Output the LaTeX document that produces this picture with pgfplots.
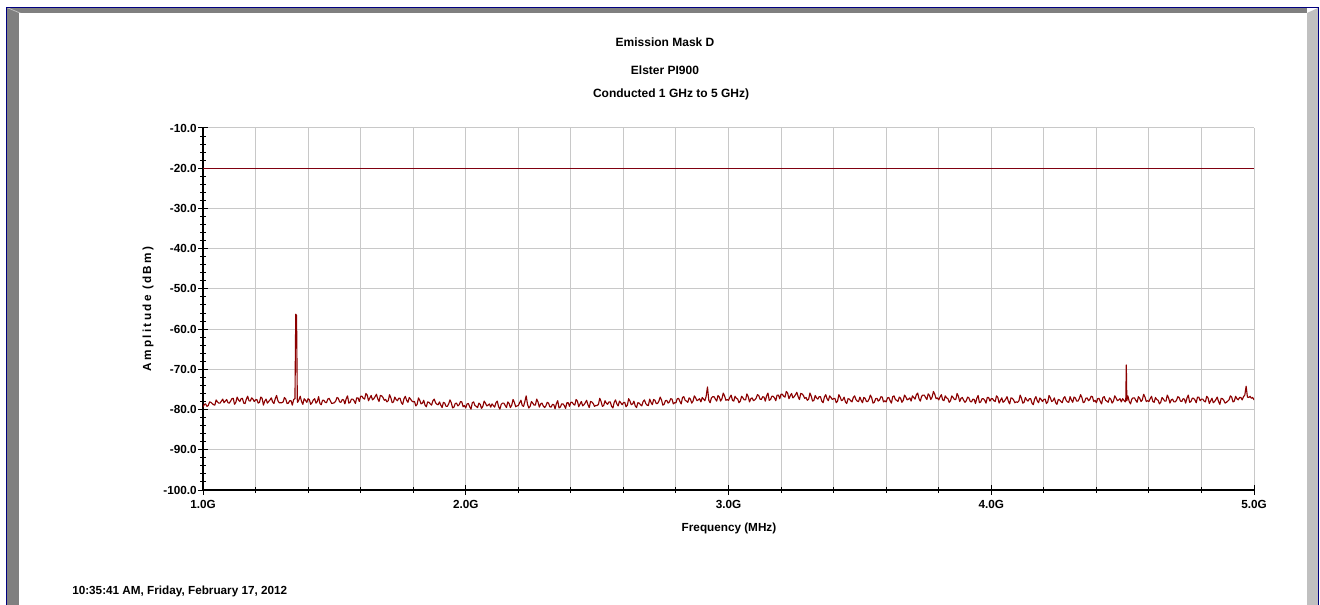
\documentclass[border=0pt]{standalone}
\usepackage{pgfplots}
\pgfplotsset{compat=1.18}
\usepackage{fontspec}
\setmainfont{Liberation Sans}
\newfontfamily\spacedfont[LetterSpace=20]{Liberation Sans}
\definecolor{trace}{RGB}{139,0,0}
\definecolor{limitc}{RGB}{128,0,16}
\definecolor{gridc}{RGB}{200,200,200}
\definecolor{navyc}{RGB}{0,0,128}
\definecolor{darkband}{RGB}{128,128,128}
\definecolor{lightband}{RGB}{192,192,192}
\newcommand{\lbl}{\fontsize{8.8}{10}\selectfont\bfseries}
\begin{document}
\begin{tikzpicture}
\begin{scope}[x=0.75pt,y=-0.75pt]
\useasboundingbox (0,0) rectangle (1320,605);
\fill[white] (0,0) rectangle (1320,605);
\fill[darkband] (7,8) rectangle (1307,13);
\fill[darkband] (7,8) rectangle (19,605);
\fill[lightband] (7,8) -- (19,13) -- (21,13) -- (9,8) -- cycle;
\fill[lightband] (1307,13) -- (1318,8) -- (1318,605) -- (1307,605) -- cycle;
\draw[navyc, line width=0.75pt] (6.5,605) -- (6.5,7.5) -- (1318.5,7.5) -- (1318.5,605);
\node[font=\fontsize{9}{11}\selectfont\bfseries] at (665,42) {Emission Mask D};
\node[font=\fontsize{9}{11}\selectfont\bfseries] at (665,70) {Elster PI900};
\node[font=\fontsize{9}{11}\selectfont\bfseries] at (671,94) {Conducted 1 GHz to 5 GHz)};
\node[font=\lbl] at (729,528) {Frequency (MHz)};
\node[rotate=90, font=\fontsize{8.8}{10}\selectfont\bfseries\spacedfont] at (148,309) {Amplitude (dBm)};
\node[font=\lbl, anchor=west, inner sep=0pt] at (72,591) {10:35:41 AM, Friday, February 17, 2012};
\end{scope}
\begin{axis}[
  at={(152.25pt,-367.5pt)}, anchor=south west,
  scale only axis, width=788.25pt, height=271.5pt,
  xmin=1, xmax=5, ymin=-100, ymax=-10,
  axis x line*=bottom, axis y line*=left,
  axis line style={-, black, line width=0.9pt},
  xtick={1,2,3,4,5}, xticklabels={1.0G,2.0G,3.0G,4.0G,5.0G},
  minor x tick num=4,
  ytick={-100,-90,-80,-70,-60,-50,-40,-30,-20,-10},
  yticklabels={-100.0,-90.0,-80.0,-70.0,-60.0,-50.0,-40.0,-30.0,-20.0,-10.0},
  minor y tick num=4,
  xtick pos=left, ytick pos=left,
  tick align=center,
  major tick length=7pt, minor tick length=4.5pt,
  tick style={black, line width=0.75pt},
  xmajorgrids=true, xminorgrids=true, ymajorgrids=true,
  major grid style={gridc, line width=0.75pt},
  minor grid style={gridc, line width=0.75pt},
  ticklabel style={font=\lbl},
  yticklabel style={anchor=east, inner sep=1pt},
  xticklabel style={anchor=north, inner sep=1pt, yshift=-3pt},
]
\addplot[limitc, line width=0.9pt] coordinates {(1,-20) (5,-20)};
\addplot[trace, line width=0.85pt, line join=round] coordinates {
(1.00,-79.4)(1.005,-78.7)(1.01,-78.6)(1.015,-79.2)(1.02,-79.0)(1.025,-78.1)(1.03,-78.2)(1.035,-78.5)(1.04,-78.8)(1.045,-78.9)(1.05,-77.6)(1.055,-78.1)(1.06,-78.4)(1.065,-78.4)(1.07,-77.9)(1.075,-77.4)(1.08,-78.3)(1.085,-77.9)(1.09,-77.5)(1.095,-78.3)
(1.10,-78.4)(1.105,-77.9)(1.11,-77.3)(1.115,-77.2)(1.12,-78.7)(1.125,-78.2)(1.13,-76.9)(1.135,-77.6)(1.14,-78.0)(1.145,-77.3)(1.15,-77.2)(1.155,-78.4)(1.16,-78.5)(1.165,-77.4)(1.17,-76.7)(1.175,-77.8)(1.18,-77.9)(1.185,-77.1)(1.19,-77.4)(1.195,-78.0)
(1.20,-77.6)(1.205,-77.5)(1.21,-78.4)(1.215,-78.2)(1.22,-76.9)(1.225,-77.2)(1.23,-78.9)(1.235,-77.9)(1.24,-77.4)(1.245,-78.4)(1.25,-78.0)(1.255,-77.6)(1.26,-77.1)(1.265,-78.1)(1.27,-78.5)(1.275,-77.3)(1.28,-76.5)(1.285,-77.8)(1.29,-78.3)(1.295,-78.3)
(1.30,-78.3)(1.305,-78.1)(1.31,-77.0)(1.315,-77.4)(1.32,-78.5)(1.325,-78.4)(1.33,-77.8)(1.335,-77.8)(1.34,-78.9)(1.345,-77.5)(1.350,-77.3)(1.353,-56.3)(1.356,-56.6)(1.359,-78.0)(1.36,-78.2)(1.365,-77.6)(1.37,-76.7)(1.375,-78.0)(1.38,-78.7)(1.385,-77.3)(1.39,-77.7)(1.395,-78.2)
(1.40,-77.3)(1.405,-77.6)(1.41,-78.7)(1.415,-78.3)(1.42,-77.6)(1.425,-77.3)(1.43,-78.4)(1.435,-78.0)(1.44,-76.8)(1.445,-78.5)(1.45,-78.8)(1.455,-77.7)(1.46,-77.7)(1.465,-78.2)(1.47,-78.3)(1.475,-77.4)(1.48,-77.2)(1.485,-77.9)(1.49,-78.5)(1.495,-78.4)
(1.50,-78.3)(1.505,-77.9)(1.51,-77.0)(1.515,-77.2)(1.52,-78.1)(1.525,-78.2)(1.53,-77.5)(1.535,-77.6)(1.54,-78.6)(1.545,-77.3)(1.55,-76.6)(1.555,-78.4)(1.56,-78.2)(1.565,-77.4)(1.57,-77.4)(1.575,-77.8)(1.58,-78.5)(1.585,-77.1)(1.59,-77.1)(1.595,-78.0)
(1.60,-76.7)(1.605,-76.7)(1.61,-77.2)(1.615,-77.4)(1.62,-76.0)(1.625,-76.4)(1.63,-77.8)(1.635,-77.1)(1.64,-76.5)(1.645,-77.6)(1.65,-77.3)(1.655,-76.8)(1.66,-76.2)(1.665,-77.3)(1.67,-78.0)(1.675,-76.5)(1.68,-76.6)(1.685,-77.0)(1.69,-77.7)(1.695,-77.5)
(1.70,-78.1)(1.705,-77.8)(1.71,-76.3)(1.715,-77.1)(1.72,-78.3)(1.725,-78.1)(1.73,-76.9)(1.735,-77.5)(1.74,-77.8)(1.745,-77.2)(1.75,-77.2)(1.755,-78.3)(1.76,-78.7)(1.765,-77.3)(1.77,-76.7)(1.775,-77.7)(1.78,-78.2)(1.785,-77.0)(1.79,-77.4)(1.795,-77.9)
(1.80,-78.1)(1.805,-78.0)(1.81,-79.1)(1.815,-78.7)(1.82,-77.1)(1.825,-77.7)(1.83,-78.6)(1.835,-78.4)(1.84,-77.7)(1.845,-78.9)(1.85,-79.3)(1.855,-78.1)(1.86,-78.2)(1.865,-78.6)(1.87,-78.9)(1.875,-77.8)(1.88,-77.4)(1.885,-78.3)(1.89,-78.7)(1.895,-78.8)
(1.90,-78.1)(1.905,-78.9)(1.91,-79.5)(1.915,-78.2)(1.92,-78.4)(1.925,-79.2)(1.93,-79.2)(1.935,-78.6)(1.94,-77.6)(1.945,-78.3)(1.95,-79.6)(1.955,-79.4)(1.96,-78.5)(1.965,-78.4)(1.97,-79.1)(1.975,-78.8)(1.98,-78.0)(1.985,-78.1)(1.99,-79.3)(1.995,-79.0)
(2.00,-79.6)(2.005,-78.6)(2.01,-78.5)(2.015,-79.3)(2.02,-79.9)(2.025,-78.3)(2.03,-78.1)(2.035,-79.0)(2.04,-79.2)(2.045,-79.5)(2.05,-78.4)(2.055,-78.7)(2.06,-79.7)(2.065,-79.2)(2.07,-77.9)(2.075,-78.4)(2.08,-79.1)(2.085,-78.9)(2.09,-78.6)(2.095,-79.4)
(2.10,-78.6)(2.105,-79.0)(2.11,-79.4)(2.115,-78.3)(2.12,-77.9)(2.125,-79.3)(2.13,-79.9)(2.135,-78.7)(2.14,-78.4)(2.145,-78.4)(2.15,-79.0)(2.155,-79.5)(2.16,-78.1)(2.165,-78.5)(2.17,-79.5)(2.175,-78.9)(2.18,-77.5)(2.185,-78.2)(2.19,-79.3)(2.195,-79.1)
(2.20,-79.0)(2.205,-78.3)(2.21,-77.7)(2.215,-79.0)(2.22,-79.2)(2.225,-78.0)(2.23,-76.6)(2.235,-78.7)(2.24,-79.6)(2.245,-79.2)(2.25,-78.0)(2.255,-78.4)(2.26,-78.9)(2.265,-78.9)(2.27,-77.4)(2.275,-78.1)(2.28,-79.4)(2.285,-78.6)(2.29,-78.4)(2.295,-79.1)
(2.30,-79.5)(2.305,-79.1)(2.31,-78.2)(2.315,-78.4)(2.32,-79.3)(2.325,-79.4)(2.33,-78.7)(2.335,-78.8)(2.34,-79.8)(2.345,-78.5)(2.35,-77.8)(2.355,-79.6)(2.36,-79.4)(2.365,-78.6)(2.37,-78.6)(2.375,-79.0)(2.38,-79.7)(2.385,-78.3)(2.39,-78.3)(2.395,-79.2)
(2.40,-78.2)(2.405,-78.2)(2.41,-78.7)(2.415,-78.9)(2.42,-77.5)(2.425,-77.9)(2.43,-79.3)(2.435,-78.6)(2.44,-78.0)(2.445,-79.1)(2.45,-78.8)(2.455,-78.3)(2.46,-77.7)(2.465,-78.8)(2.47,-79.5)(2.475,-78.0)(2.48,-78.1)(2.485,-78.5)(2.49,-79.2)(2.495,-79.0)
(2.50,-79.0)(2.505,-78.7)(2.51,-77.2)(2.515,-78.0)(2.52,-79.2)(2.525,-79.0)(2.53,-77.8)(2.535,-78.4)(2.54,-78.7)(2.545,-78.1)(2.55,-78.1)(2.555,-79.2)(2.56,-79.6)(2.565,-78.2)(2.57,-77.6)(2.575,-78.6)(2.58,-79.1)(2.585,-77.9)(2.59,-78.3)(2.595,-78.8)
(2.60,-78.3)(2.605,-78.2)(2.61,-79.3)(2.615,-78.9)(2.62,-77.3)(2.625,-77.9)(2.63,-78.8)(2.635,-78.6)(2.64,-77.9)(2.645,-79.1)(2.65,-79.5)(2.655,-78.3)(2.66,-78.4)(2.665,-78.8)(2.67,-79.1)(2.675,-78.0)(2.68,-77.6)(2.685,-78.5)(2.69,-78.9)(2.695,-79.0)
(2.70,-77.4)(2.705,-78.2)(2.71,-78.8)(2.715,-77.5)(2.72,-77.7)(2.725,-78.5)(2.73,-78.5)(2.735,-77.9)(2.74,-76.9)(2.745,-77.6)(2.75,-78.9)(2.755,-78.7)(2.76,-77.8)(2.765,-77.7)(2.77,-78.4)(2.775,-78.1)(2.78,-77.3)(2.785,-77.4)(2.79,-78.6)(2.795,-78.3)
(2.80,-78.3)(2.805,-77.3)(2.81,-77.2)(2.815,-78.0)(2.82,-78.6)(2.825,-77.0)(2.83,-76.8)(2.835,-77.7)(2.84,-77.9)(2.845,-78.2)(2.85,-77.1)(2.855,-77.4)(2.86,-78.4)(2.865,-77.9)(2.87,-76.6)(2.875,-77.1)(2.88,-77.8)(2.885,-77.6)(2.89,-77.3)(2.895,-78.1)
(2.90,-77.0)(2.905,-77.4)(2.91,-77.8)(2.915,-76.7)(2.92,-74.4)(2.925,-77.7)(2.93,-78.3)(2.935,-77.1)(2.94,-76.8)(2.945,-76.8)(2.95,-77.4)(2.955,-77.9)(2.96,-76.5)(2.965,-76.9)(2.97,-77.9)(2.975,-77.3)(2.98,-75.9)(2.985,-76.6)(2.99,-77.7)(2.995,-77.5)
(3.00,-77.7)(3.005,-77.0)(3.01,-76.4)(3.015,-77.7)(3.02,-77.9)(3.025,-76.7)(3.03,-77.2)(3.035,-77.4)(3.04,-78.3)(3.045,-77.9)(3.05,-76.7)(3.055,-77.1)(3.06,-77.6)(3.065,-77.6)(3.07,-76.1)(3.075,-76.8)(3.08,-78.1)(3.085,-77.3)(3.09,-77.1)(3.095,-77.8)
(3.10,-77.6)(3.105,-77.2)(3.11,-76.3)(3.115,-76.5)(3.12,-77.4)(3.125,-77.5)(3.13,-76.8)(3.135,-76.9)(3.14,-77.9)(3.145,-76.6)(3.15,-75.9)(3.155,-77.7)(3.16,-77.5)(3.165,-76.7)(3.17,-76.7)(3.175,-77.1)(3.18,-77.8)(3.185,-76.4)(3.19,-76.4)(3.195,-77.3)
(3.20,-76.2)(3.205,-76.2)(3.21,-76.7)(3.215,-76.9)(3.22,-75.5)(3.225,-75.9)(3.23,-77.3)(3.235,-76.6)(3.24,-76.0)(3.245,-77.1)(3.25,-76.8)(3.255,-76.3)(3.26,-75.7)(3.265,-76.8)(3.27,-77.5)(3.275,-76.0)(3.28,-76.1)(3.285,-76.5)(3.29,-77.2)(3.295,-77.0)
(3.30,-77.7)(3.305,-77.4)(3.31,-75.9)(3.315,-76.7)(3.32,-77.9)(3.325,-77.7)(3.33,-76.5)(3.335,-77.1)(3.34,-77.4)(3.345,-76.8)(3.35,-76.8)(3.355,-77.9)(3.36,-78.3)(3.365,-76.9)(3.37,-76.3)(3.375,-77.3)(3.38,-77.8)(3.385,-76.6)(3.39,-77.0)(3.395,-77.5)
(3.40,-77.3)(3.405,-77.2)(3.41,-78.3)(3.415,-77.9)(3.42,-76.3)(3.425,-76.9)(3.43,-77.8)(3.435,-77.6)(3.44,-76.9)(3.445,-78.1)(3.45,-78.5)(3.455,-77.3)(3.46,-77.4)(3.465,-77.8)(3.47,-78.1)(3.475,-77.0)(3.48,-76.6)(3.485,-77.5)(3.49,-77.9)(3.495,-78.0)
(3.50,-76.9)(3.505,-77.7)(3.51,-78.3)(3.515,-77.0)(3.52,-77.2)(3.525,-78.0)(3.53,-78.0)(3.535,-77.4)(3.54,-76.4)(3.545,-77.1)(3.55,-78.4)(3.555,-78.2)(3.56,-77.3)(3.565,-77.2)(3.57,-77.9)(3.575,-77.6)(3.58,-76.8)(3.585,-76.9)(3.59,-78.1)(3.595,-77.8)
(3.60,-78.1)(3.605,-77.1)(3.61,-77.0)(3.615,-77.8)(3.62,-78.4)(3.625,-76.8)(3.63,-76.6)(3.635,-77.5)(3.64,-77.7)(3.645,-78.0)(3.65,-76.9)(3.655,-77.2)(3.66,-78.2)(3.665,-77.7)(3.67,-76.4)(3.675,-76.9)(3.68,-77.6)(3.685,-77.4)(3.69,-77.1)(3.695,-77.9)
(3.70,-76.6)(3.705,-77.0)(3.71,-77.4)(3.715,-76.3)(3.72,-75.9)(3.725,-77.3)(3.73,-77.9)(3.735,-76.7)(3.74,-76.4)(3.745,-76.4)(3.75,-77.0)(3.755,-77.5)(3.76,-76.1)(3.765,-76.5)(3.77,-77.5)(3.775,-76.9)(3.78,-75.5)(3.785,-76.2)(3.79,-77.3)(3.795,-77.1)
(3.80,-77.6)(3.805,-76.9)(3.81,-76.3)(3.815,-77.6)(3.82,-77.8)(3.825,-76.6)(3.83,-77.1)(3.835,-77.3)(3.84,-78.2)(3.845,-77.8)(3.85,-76.6)(3.855,-77.0)(3.86,-77.5)(3.865,-77.5)(3.87,-76.0)(3.875,-76.7)(3.88,-78.0)(3.885,-77.2)(3.89,-77.0)(3.895,-77.7)
(3.90,-78.2)(3.905,-77.8)(3.91,-76.9)(3.915,-77.1)(3.92,-78.0)(3.925,-78.1)(3.93,-77.4)(3.935,-77.5)(3.94,-78.5)(3.945,-77.2)(3.95,-76.5)(3.955,-78.3)(3.96,-78.1)(3.965,-77.3)(3.97,-77.3)(3.975,-77.7)(3.98,-78.4)(3.985,-77.0)(3.99,-77.0)(3.995,-77.9)
(4.00,-77.3)(4.005,-77.3)(4.01,-77.8)(4.015,-78.0)(4.02,-76.6)(4.025,-77.0)(4.03,-78.4)(4.035,-77.7)(4.04,-77.1)(4.045,-78.2)(4.05,-77.9)(4.055,-77.4)(4.06,-76.8)(4.065,-77.9)(4.07,-78.6)(4.075,-77.1)(4.08,-77.2)(4.085,-77.6)(4.09,-78.3)(4.095,-78.1)
(4.10,-78.2)(4.105,-77.9)(4.11,-76.4)(4.115,-77.2)(4.12,-78.4)(4.125,-78.2)(4.13,-77.0)(4.135,-77.6)(4.14,-77.9)(4.145,-77.3)(4.15,-77.3)(4.155,-78.4)(4.16,-78.8)(4.165,-77.4)(4.17,-76.8)(4.175,-77.8)(4.18,-78.3)(4.185,-77.1)(4.19,-77.5)(4.195,-78.0)
(4.20,-77.5)(4.205,-77.4)(4.21,-78.5)(4.215,-78.1)(4.22,-76.5)(4.225,-77.1)(4.23,-78.0)(4.235,-77.8)(4.24,-77.1)(4.245,-78.3)(4.25,-78.7)(4.255,-77.5)(4.26,-77.6)(4.265,-78.0)(4.27,-78.3)(4.275,-77.2)(4.28,-76.8)(4.285,-77.7)(4.29,-78.1)(4.295,-78.2)
(4.30,-76.8)(4.305,-77.6)(4.31,-78.2)(4.315,-76.9)(4.32,-77.1)(4.325,-77.9)(4.33,-77.9)(4.335,-77.3)(4.34,-76.3)(4.345,-77.0)(4.35,-78.3)(4.355,-78.1)(4.36,-77.2)(4.365,-77.1)(4.37,-77.8)(4.375,-77.5)(4.38,-76.7)(4.385,-76.8)(4.39,-78.0)(4.395,-77.7)
(4.40,-78.3)(4.405,-77.3)(4.41,-77.2)(4.415,-78.0)(4.42,-78.6)(4.425,-77.0)(4.43,-76.8)(4.435,-77.7)(4.44,-77.9)(4.445,-78.2)(4.45,-77.1)(4.455,-77.4)(4.46,-78.4)(4.465,-77.9)(4.47,-76.6)(4.475,-77.1)(4.48,-77.8)(4.485,-77.6)(4.49,-77.3)(4.495,-78.1)
(4.50,-77.3)(4.505,-77.7)(4.51,-78.1)(4.512,-77.6)(4.514,-68.9)(4.516,-77.8)(4.52,-76.6)(4.525,-78.0)(4.53,-78.6)(4.535,-77.4)(4.54,-77.1)(4.545,-77.1)(4.55,-77.7)(4.555,-78.2)(4.56,-76.8)(4.565,-77.2)(4.57,-78.0)(4.575,-77.6)(4.58,-76.2)(4.585,-76.9)(4.59,-78.0)(4.595,-77.8)
(4.60,-78.0)(4.605,-77.3)(4.61,-76.7)(4.615,-78.0)(4.62,-78.2)(4.625,-77.0)(4.63,-77.5)(4.635,-77.7)(4.64,-78.6)(4.645,-78.2)(4.65,-77.0)(4.655,-77.4)(4.66,-77.9)(4.665,-77.9)(4.67,-76.4)(4.675,-77.1)(4.68,-78.4)(4.685,-77.6)(4.69,-77.4)(4.695,-78.1)
(4.70,-78.1)(4.705,-77.7)(4.71,-76.8)(4.715,-77.0)(4.72,-77.9)(4.725,-78.0)(4.73,-77.3)(4.735,-77.4)(4.74,-78.4)(4.745,-77.1)(4.75,-76.4)(4.755,-78.2)(4.76,-78.0)(4.765,-77.2)(4.77,-77.2)(4.775,-77.6)(4.78,-78.3)(4.785,-76.9)(4.79,-76.9)(4.795,-77.8)
(4.80,-77.4)(4.805,-77.4)(4.81,-77.9)(4.815,-78.1)(4.82,-76.7)(4.825,-77.1)(4.83,-78.5)(4.835,-77.8)(4.84,-77.2)(4.845,-78.3)(4.85,-78.0)(4.855,-77.5)(4.86,-76.9)(4.865,-78.0)(4.87,-78.7)(4.875,-77.2)(4.88,-77.3)(4.885,-77.7)(4.89,-78.4)(4.895,-78.2)
(4.90,-77.9)(4.905,-77.6)(4.91,-76.6)(4.915,-76.9)(4.92,-78.1)(4.925,-77.9)(4.93,-76.7)(4.935,-77.3)(4.94,-77.6)(4.945,-77.0)(4.95,-77.0)(4.955,-77.6)(4.96,-76.8)(4.965,-76.4)(4.97,-74.2)(4.975,-76.9)(4.98,-77.0)(4.985,-76.7)(4.99,-77.2)(4.995,-77.0)(5.00,-77.6)
};
\end{axis}
\end{tikzpicture}
\end{document}
